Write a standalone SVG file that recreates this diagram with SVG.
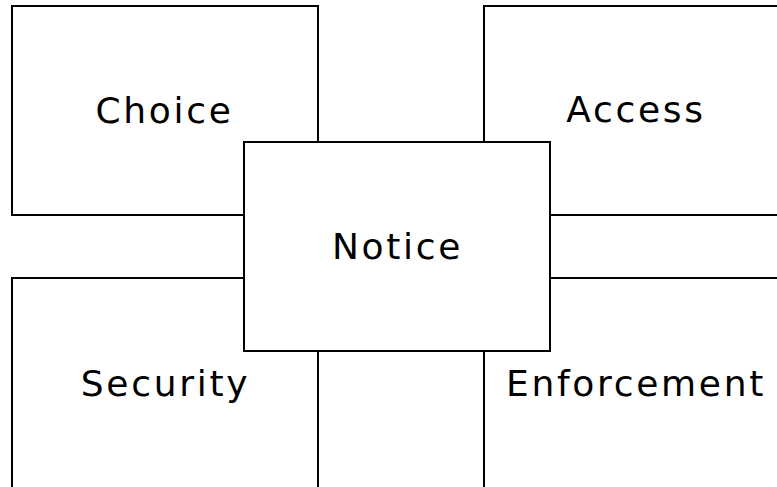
<svg xmlns="http://www.w3.org/2000/svg" width="777" height="487" viewBox="0 0 777 487">
<style>
.box{fill:#fff;stroke:#000;stroke-width:2}
.lbl{font-family:"DejaVu Sans",sans-serif;font-size:36px;letter-spacing:2.7px;fill:#000;text-anchor:middle}
</style>
<rect width="777" height="487" fill="#fff"/>
<g id="choice"><rect class="box" x="12" y="6" width="306" height="209"/><text class="lbl" x="164.5" y="123">Choice</text></g>
<g id="access"><rect class="box" x="484" y="6" width="320" height="209"/><text class="lbl" x="636" y="122">Access</text></g>
<g id="security"><rect class="box" x="12" y="278" width="306" height="230"/><text class="lbl" x="165.5" y="396">Security</text></g>
<g id="enforcement"><rect class="box" x="484" y="278" width="320" height="230"/><text class="lbl" x="636" y="396">Enforcement</text></g>
<g id="notice"><rect class="box" x="244" y="142" width="306" height="209"/><text class="lbl" x="397.5" y="259">Notice</text></g>
<g id="connectors"></g>
</svg>
